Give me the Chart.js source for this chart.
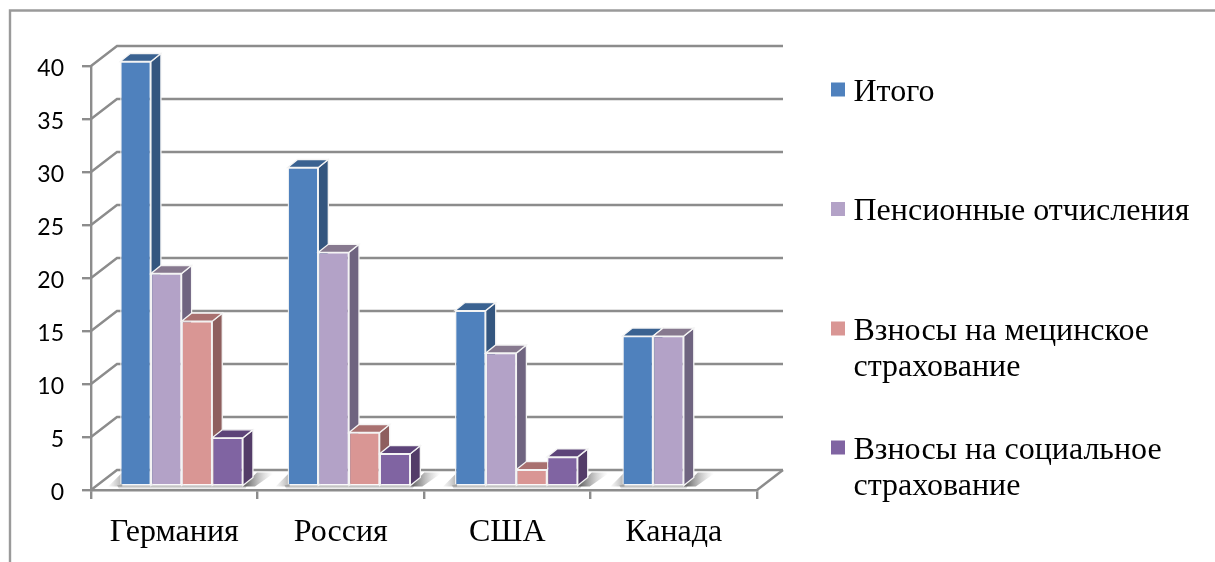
<!DOCTYPE html>
<html>
<head>
<meta charset="utf-8">
<style>
  html, body { margin: 0; padding: 0; background: #fff; }
  #wrap { position: relative; width: 1215px; height: 562px; }
</style>
<script src="https://cdn.jsdelivr.net/npm/chart.js@4"></script>
</head>
<body>
<div id="wrap"><canvas id="chart" width="1215" height="562"></canvas></div>
<script>
const categories = ['Германия', 'Россия', 'США', 'Канада'];
const seriesNames = ['Итого', 'Пенсионные отчисления', 'Взносы на мецинское страхование', 'Взносы на социальное страхование'];
const itogo = [40, 30, 16.5, 14.1];
const pension = [20, 22, 12.5, 14.1];
const medical = [15.5, 5, 1.5, null];
const social = [4.5, 3, 2.7, null];
const yTicks = [0, 5, 10, 15, 20, 25, 30, 35, 40];

// front, side, top
const colors = [
  ['#4F81BD', '#34567F', '#3A6291'],
  ['#B3A2C7', '#6F6480', '#87798F'],
  ['#D99694', '#8E5F5E', '#A97170'],
  ['#8064A2', '#533C68', '#5D4479']
];
const legendLines = [
  [['Итого'], 100.5],
  [['Пенсионные отчисления'], 220],
  [['Взносы на мецинское', 'страхование'], 339.5],
  [['Взносы на социальное', 'страхование'], 458.5]
];
const GRID = '#8C8C8C';
const WALL = { x: 26, y: 20 };   // depth of the chart box
const BAR_SCALE = 1.0054, BAR_TX = 6.4, BAR_UP = 4.5;  // bars stand a bit behind the front edge
const BAR_D = { x: 10, y: 8 };   // depth of one bar

function poly(ctx, pts, fill, stroke) {
  ctx.beginPath();
  pts.forEach((p, i) => i ? ctx.lineTo(p[0], p[1]) : ctx.moveTo(p[0], p[1]));
  ctx.closePath();
  if (fill) { ctx.fillStyle = fill; ctx.fill(); }
  if (stroke) { ctx.strokeStyle = stroke; ctx.lineWidth = 1.3; ctx.stroke(); }
}

const fx = x => x * BAR_SCALE + BAR_TX;

const walls = {
  id: 'walls',
  beforeDatasetsDraw(chart) {
    const { ctx, chartArea: a, scales: { y } } = chart;
    ctx.save();
    // outer frame, it runs off the picture on the right and at the bottom
    ctx.strokeStyle = '#9A9A9A';
    ctx.lineWidth = 2.4;
    ctx.beginPath();
    ctx.moveTo(10, 562); ctx.lineTo(10, 10.5); ctx.lineTo(1215, 10.5);
    ctx.stroke();
    // back wall and side wall lines
    ctx.strokeStyle = GRID;
    ctx.lineWidth = 2.4;
    yTicks.forEach(v => {
      const py = y.getPixelForValue(v);
      ctx.beginPath();
      ctx.moveTo(a.left, py);
      ctx.lineTo(a.left + WALL.x, py - WALL.y);
      ctx.lineTo(a.right + WALL.x, py - WALL.y);
      ctx.stroke();
    });
    ctx.beginPath();
    ctx.moveTo(a.right, a.bottom);
    ctx.lineTo(a.right + WALL.x, a.bottom - WALL.y);
    ctx.stroke();
    ctx.restore();

    drawBars(chart);
    return false;
  }
};

function drawBars(chart) {
  const { ctx } = chart;
  const metas = chart.getSortedVisibleDatasetMetas();
  const base = chart.scales.y.getPixelForValue(0) - BAR_UP;

  // floor shadow round each group
  categories.forEach((c, i) => {
    let r = 0, l = 1e9;
    metas.forEach(m => {
      const el = m.data[i];
      if (m._parsed[i].y != null) {
        r = Math.max(r, fx(el.x + el.width / 2));
        l = Math.min(l, fx(el.x - el.width / 2));
      }
    });
    const g = ctx.createLinearGradient(r + 4, 0, r + 30, 0);
    g.addColorStop(0, 'rgba(80,80,80,0.8)');
    g.addColorStop(1, 'rgba(160,160,160,0)');
    poly(ctx, [[r, base + 1], [r + 14, base - 13], [r + 32, base - 13], [r + 12, base + 1]], g);
    const g3 = ctx.createLinearGradient(l, 0, l - 14, 0);
    g3.addColorStop(0, 'rgba(120,120,120,0.5)');
    g3.addColorStop(1, 'rgba(160,160,160,0)');
    poly(ctx, [[l + 2, base - 13], [l + 2, base + 1], [l - 12, base + 1]], g3);
    const g2 = ctx.createLinearGradient(0, base, 0, base + 4);
    g2.addColorStop(0, 'rgba(90,90,90,0.5)');
    g2.addColorStop(1, 'rgba(120,120,120,0)');
    poly(ctx, [[l - 3, base], [r + 4, base], [r + 2, base + 4], [l - 1, base + 4]], g2);
  });

  // first series first, each one covers the side of the one before
  metas.forEach((m, di) => {
    m.data.forEach((el, i) => {
      if (m._parsed[i].y == null) return;
      const x1 = fx(el.x + el.width / 2);
      const x0 = fx(el.x - el.width / 2);
      const top = el.y - BAR_UP;
      const d = BAR_D;
      poly(ctx, [[x1, top], [x1 + d.x, top - d.y], [x1 + d.x, base - d.y], [x1, base]], colors[di][1], '#F4F4F4');
      poly(ctx, [[x0, top], [x0 + d.x, top - d.y], [x1 + d.x, top - d.y], [x1, top]], colors[di][2], '#F4F4F4');
    });
    ctx.save();
    ctx.transform(BAR_SCALE, 0, 0, 1, BAR_TX, -BAR_UP);
    m.controller.draw();
    ctx.restore();
  });
}

// the y labels sit a little below their ticks in the original
const shiftLabels = {
  id: 'shiftLabels',
  afterUpdate(chart) {
    const y = chart.scales.y;
    const orig = y.drawLabels;
    y.drawLabels = function (area) {
      chart.ctx.save();
      chart.ctx.translate(0, 3);
      orig.call(y, area);
      chart.ctx.restore();
    };
  }
};

const sideLegend = {
  id: 'sideLegend',
  afterDraw(chart) {
    const { ctx } = chart;
    ctx.save();
    ctx.font = '32px "Liberation Serif"';
    ctx.textBaseline = 'alphabetic';
    legendLines.forEach(([lines, y], i) => {
      ctx.fillStyle = colors[i][0];
      ctx.fillRect(831, y - 18, 14, 14);
      ctx.fillStyle = '#000';
      lines.forEach((t, k) => ctx.fillText(t, 853.5, y + k * 36.7));
    });
    ctx.restore();
  }
};

new Chart(document.getElementById('chart'), {
  type: 'bar',
  data: {
    labels: categories,
    datasets: [itogo, pension, medical, social].map((d, i) => ({
      label: seriesNames[i],
      data: d,
      backgroundColor: colors[i][0],
      borderColor: '#F4F4F4',
      borderWidth: 1.3,
      barPercentage: 1,
      categoryPercentage: 0.733
    }))
  },
  options: {
    responsive: false,
    animation: false,
    layout: { padding: { left: 0, right: 458, top: 66, bottom: 0 } },
    plugins: { legend: { display: false }, tooltip: { enabled: false } },
    scales: {
      x: {
        afterFit: s => { s.height = 72; },
        grid: { drawOnChartArea: false, color: GRID, lineWidth: 2.4, tickLength: 9 },
        border: { color: GRID, width: 2.4 },
        ticks: { color: '#000', font: { family: 'Liberation Serif', size: 32 }, padding: 14, maxRotation: 0 }
      },
      y: {
        min: 0, max: 40,
        afterFit: s => { s.width = 91; },
        grid: { drawOnChartArea: false, color: GRID, lineWidth: 2.4, tickLength: 9 },
        border: { color: GRID, width: 2.4 },
        ticks: { stepSize: 5, color: '#000', font: { family: 'Lato', size: 23 }, padding: 18 }
      }
    }
  },
  plugins: [walls, shiftLabels, sideLegend]
});
</script>
</body>
</html>
